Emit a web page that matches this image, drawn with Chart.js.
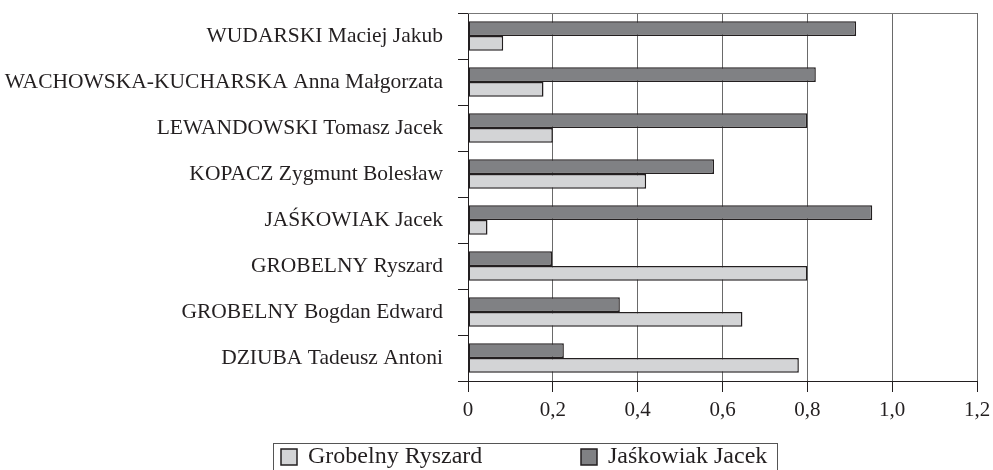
<!DOCTYPE html>
<html>
<head>
<meta charset="utf-8">
<script src="https://cdn.jsdelivr.net/npm/chart.js@4"></script>
<style>
  html, body { margin: 0; padding: 0; background: #fff; }
  canvas { display: block; }
</style>
</head>
<body>
<canvas id="chart" width="993" height="470"></canvas>
<script>
"use strict";

// Candidates, top to bottom
const CANDIDATES = [
  "WUDARSKI Maciej Jakub",
  "WACHOWSKA-KUCHARSKA Anna Małgorzata",
  "LEWANDOWSKI Tomasz Jacek",
  "KOPACZ Zygmunt Bolesław",
  "JAŚKOWIAK Jacek",
  "GROBELNY Ryszard",
  "GROBELNY Bogdan Edward",
  "DZIUBA Tadeusz Antoni",
];

const JASKOWIAK = [0.915, 0.82, 0.80, 0.58, 0.953, 0.198, 0.358, 0.226];
const GROBELNY  = [0.083, 0.178, 0.20, 0.42, 0.046, 0.80, 0.647, 0.78];

const X_MIN = 0, X_MAX = 1.2, X_STEP = 0.2;

const INK = "#231f20";
const FONT = "'Liberation Serif', 'Times New Roman', serif";

const fmtTick = (v) => (v === 0 ? "0" : v.toFixed(1).replace(".", ","));

// top frame line + boxed legend (Chart.js legend has no border / wide gap)
const framePlugin = {
  id: "frame",
  afterDraw(chart) {
    const { ctx, chartArea: a } = chart;
    ctx.save();
    ctx.strokeStyle = "#777";
    ctx.lineWidth = 1;
    ctx.beginPath();
    ctx.moveTo(a.left, a.top + 0.5);
    ctx.lineTo(a.right, a.top + 0.5);
    ctx.stroke();

    // legend box
    ctx.strokeStyle = "#555";
    ctx.strokeRect(273.5, 443.5, 504, 40);

    const items = [...chart.data.datasets].reverse();
    const xs = [281, 581];
    ctx.font = `24px ${FONT}`;
    ctx.textBaseline = "middle";
    ctx.textAlign = "left";
    items.forEach((ds, i) => {
      const x = xs[i];
      ctx.fillStyle = ds.backgroundColor;
      ctx.fillRect(x, 449, 16, 16);
      ctx.strokeStyle = INK;
      ctx.lineWidth = 1.5;
      ctx.strokeRect(x, 449, 16, 16);
      ctx.fillStyle = INK;
      ctx.fillText(ds.label, x + 27, 457);
    });
    ctx.restore();
  },
};

new Chart(document.getElementById("chart"), {
  type: "bar",
  data: {
    labels: CANDIDATES,
    datasets: [
      {
        label: "Jaśkowiak Jacek",
        data: JASKOWIAK,
        backgroundColor: "#808184",
        borderColor: INK,
        borderWidth: 1.5,
        borderSkipped: false,
      },
      {
        label: "Grobelny Ryszard",
        data: GROBELNY,
        backgroundColor: "#d3d4d6",
        borderColor: INK,
        borderWidth: 1.5,
        borderSkipped: false,
      },
    ],
  },
  options: {
    indexAxis: "y",
    responsive: false,
    animation: false,
    devicePixelRatio: 1,
    layout: { padding: { top: 13, right: 16, bottom: 0, left: 0 } },
    datasets: { bar: { categoryPercentage: 0.64, barPercentage: 1.0 } },
    plugins: {
      legend: { display: false },
      tooltip: { enabled: false },
    },
    scales: {
      x: {
        min: X_MIN,
        max: X_MAX,
        ticks: {
          stepSize: X_STEP,
          color: INK,
          font: { family: FONT, size: 21 },
          padding: 6,
          callback: (v) => fmtTick(v),
        },
        grid: { color: "#6a6a6a", lineWidth: 1, tickLength: 11, tickColor: INK },
        border: { color: INK, width: 1 },
        afterFit: (s) => { s.height = 89; s.paddingLeft = 0; s.paddingRight = 0; },
      },
      y: {
        ticks: {
          color: INK,
          font: { family: FONT, size: 21.5 },
          padding: 15,
        },
        grid: { drawOnChartArea: false, offset: true, tickLength: 10, tickColor: INK },
        border: { color: INK, width: 1 },
        afterFit: (s) => { s.width = 468; s.paddingTop = 0; s.paddingBottom = 0; },
      },
    },
  },
  plugins: [framePlugin],
});
</script>
</body>
</html>
